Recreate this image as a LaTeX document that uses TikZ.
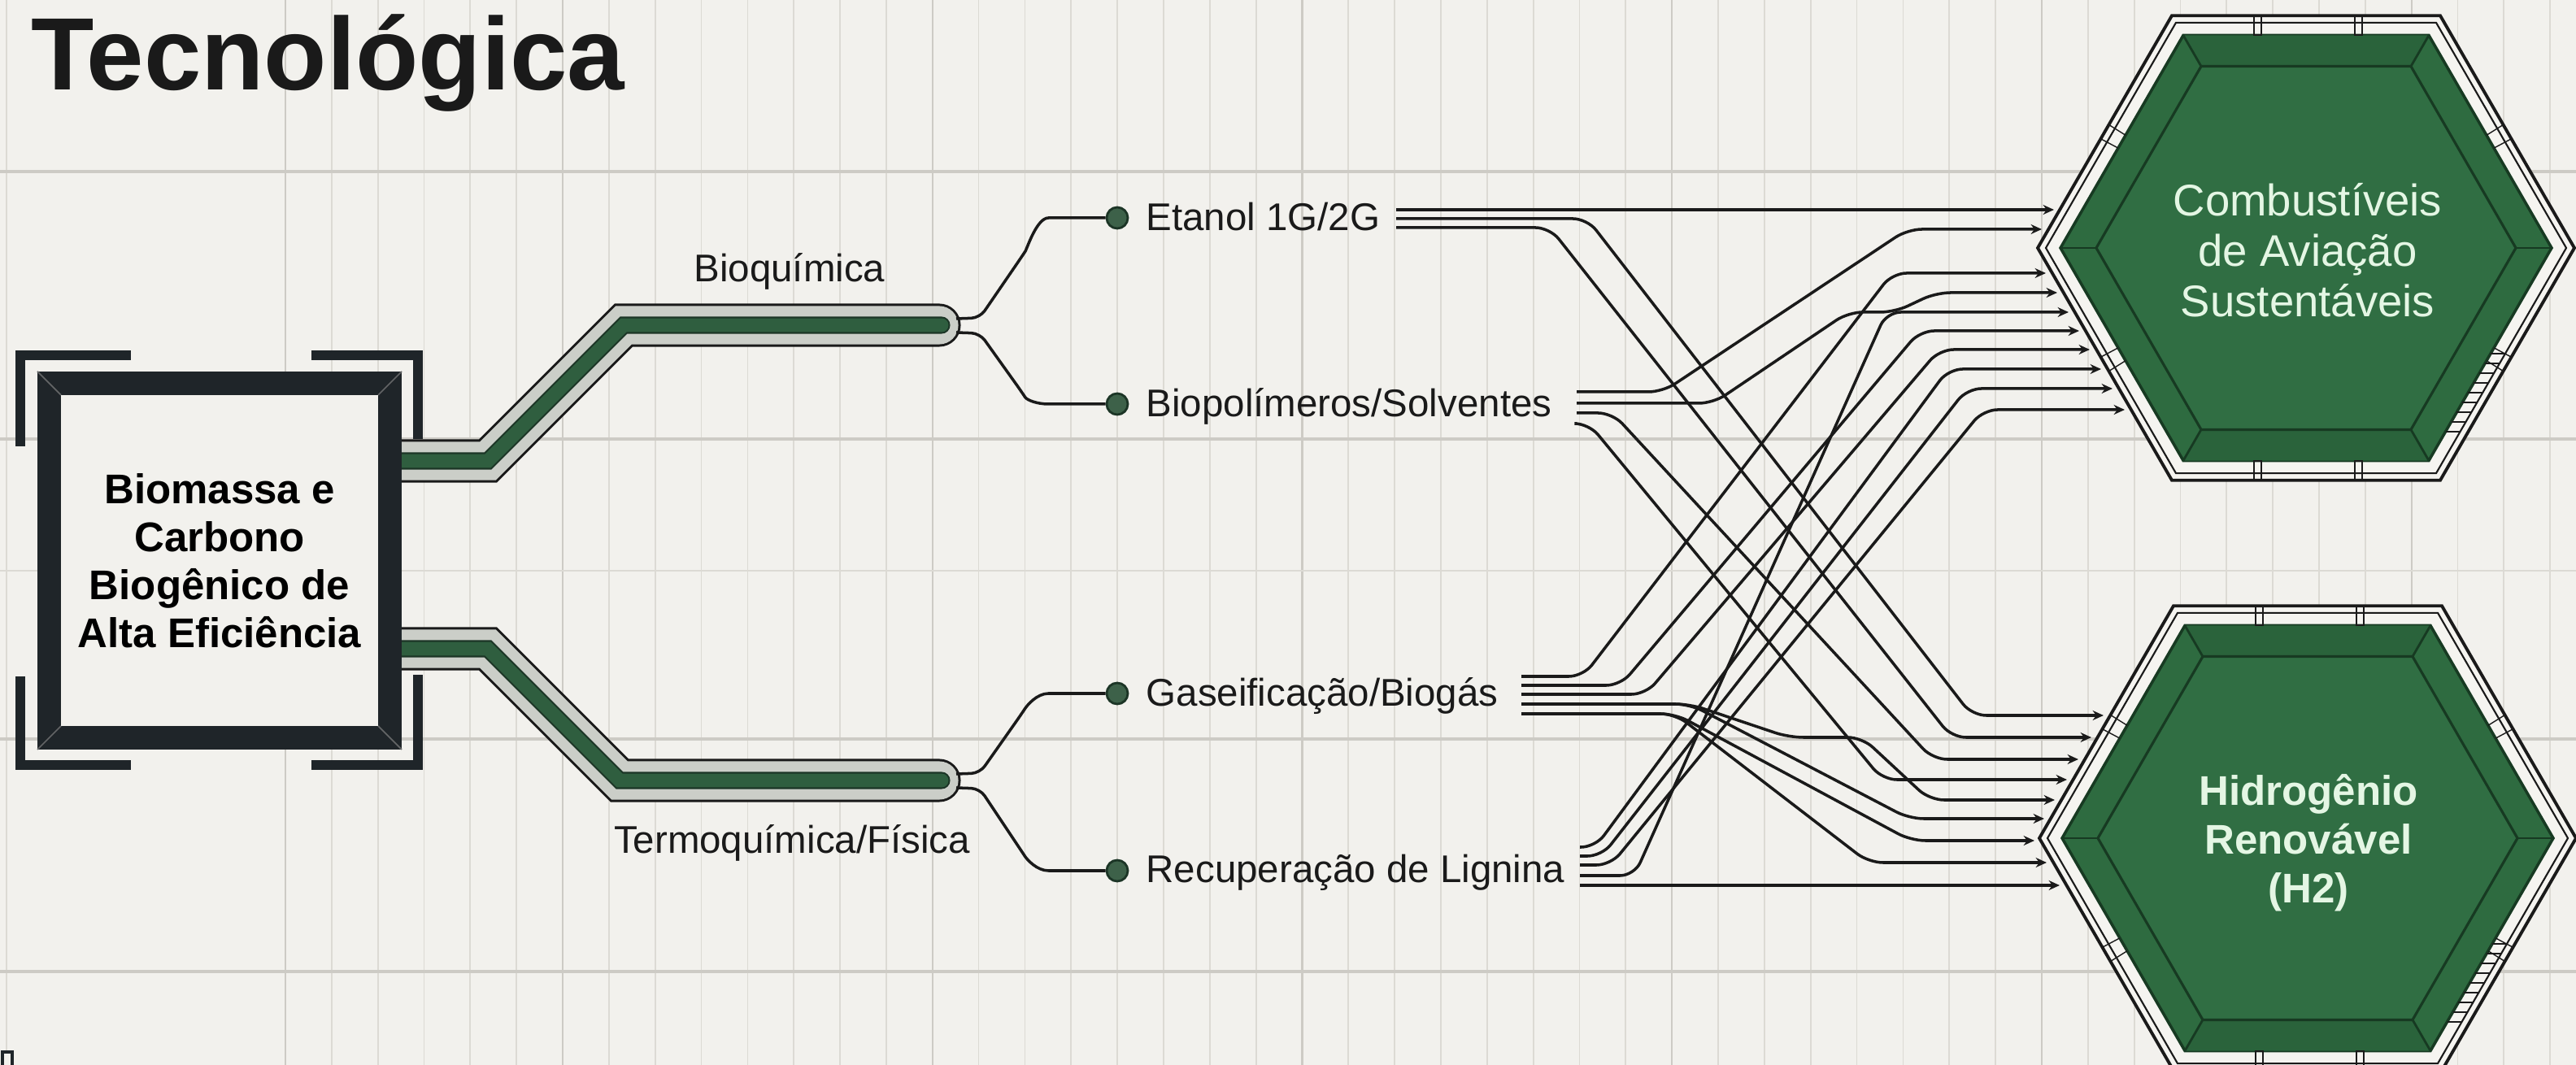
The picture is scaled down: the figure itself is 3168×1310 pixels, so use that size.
\documentclass[tikz,border=0pt]{standalone}
\usepackage{fontspec}
\setmainfont{Liberation Sans}
\usetikzlibrary{arrows.meta,calc}
\definecolor{bg}{HTML}{F2F1ED}
\definecolor{hexbg}{HTML}{F5F4F0}
\definecolor{gridc}{HTML}{DCDAD4}
\definecolor{gridd}{HTML}{CDCBC5}
\definecolor{frame}{HTML}{1F2529}
\definecolor{ink}{HTML}{1A1A1A}
\definecolor{pipeg}{HTML}{CBCEC8}
\definecolor{core}{HTML}{2F5E3F}
\definecolor{coreo}{HTML}{1C3526}
\definecolor{dotg}{HTML}{3D6149}
\definecolor{hexg}{HTML}{2E6B40}
\definecolor{hexdk}{HTML}{2A633B}
\definecolor{hexin}{HTML}{306E43}
\definecolor{hexline}{HTML}{173A22}
\definecolor{mint}{HTML}{E4F6E4}
\newcommand\hexring[1]{(0:#1) -- (60:#1) -- (120:#1) -- (180:#1) -- (240:#1) -- (300:#1) -- cycle}
\begin{document}
\begin{tikzpicture}[x=0.01cm,y=-0.01cm,
 lbl/.style={inner sep=0pt, anchor=base west, text=ink, font=\fontsize{13.5}{16}\selectfont},
 plbl/.style={inner sep=0pt, anchor=base, text=ink, font=\fontsize{13.5}{16}\selectfont},
 flow/.style={draw=ink, line width=1pt, rounded corners=5pt, -{Stealth[length=3.8pt,width=3.4pt]}},
 branch/.style={draw=ink, line width=1pt, rounded corners=3pt},
 dotn/.style={circle, fill=dotg, draw=coreo, line width=0.8pt, minimum size=0.26cm, inner sep=0pt},
 bracket/.style={draw=frame, line width=3.4pt},
 vgrid/.style={draw=gridc, line width=0.5pt},
 vgridd/.style={draw=gridd, line width=0.6pt},
 hgrid/.style={draw=gridd, line width=1pt}]
\useasboundingbox (0,0) rectangle (3168,1310);
\fill[bg] (0,0) rectangle (3168,1310);
% grid
\draw[vgrid] (8,0) -- (8,1310);
\foreach \k in {0,...,49}{\draw[vgrid] ({351+56.84*\k},0) -- ({351+56.84*\k},1310);}
\foreach \k in {0,6,14,22,30,38,46}{\draw[vgridd] ({351+56.84*\k},0) -- ({351+56.84*\k},1310);}
\foreach \yy in {211,540,909,1195}{\draw[hgrid] (0,\yy) -- (3168,\yy);}
\draw[vgrid] (0,702) -- (3168,702);
% title
\node[anchor=base west, inner sep=0pt, text=ink, font=\bfseries\fontsize{36}{40}\selectfont] (title) at (38,111) {Tecnológica};
% pipes
\foreach \p in {{(480,567) -- (600,567) -- (767,400) -- (1155,400)},{(480,798) -- (600,798) -- (762,960) -- (1155,960)}}{
 \draw[line width=15.1pt, draw=ink, line cap=round] \p;
 \draw[line width=13.4pt, draw=pipeg, line cap=round] \p;}
\foreach \p in {{(480,567) -- (600,567) -- (767,400) -- (1158,400)},{(480,798) -- (600,798) -- (762,960) -- (1158,960)}}{
 \draw[line width=6pt, draw=coreo, line cap=round] \p;
 \draw[line width=4.8pt, draw=core, line cap=round] \p;}
% box
\node[draw=frame, line width=8.25pt, fill=bg, minimum width=4.19cm, minimum height=4.36cm, align=center, inner sep=0pt, text=black, font=\bfseries\fontsize{14.5}{16.8}\selectfont] (box) at (270,689.5) {Biomassa e\\Carbono\\Biogênico de\\Alta Eficiência};
\draw[gray!70!frame, line width=0.5pt] (46,457) -- (75,486) (494,457) -- (465,486) (46,922) -- (75,893) (494,922) -- (465,893);
\draw[bracket] (25,549) -- (25,437) -- (161,437);
\draw[bracket] (383,437) -- (514,437) -- (514,540);
\draw[bracket] (25,832) -- (25,941) -- (161,941);
\draw[bracket] (383,941) -- (514,941) -- (514,830);
% pipe labels
\node[plbl] (lbio) at (971,347) {Bioquímica};
\node[plbl] (lter) at (974,1050) {Termoquímica/Física};
% dots and labels
\node[dotn] (dE) at (1374,268) {};
\node[dotn] (dB) at (1374,497) {};
\node[dotn] (dG) at (1374,853) {};
\node[dotn] (dR) at (1374,1071) {};
\node[lbl] (lE) at (1409,284) {Etanol 1G/2G};
\node[lbl] (lB) at (1409,513) {Biopolímeros/Solventes};
\node[lbl] (lG) at (1409,869) {Gaseificação/Biogás};
\node[lbl] (lR) at (1409,1086) {Recuperação de Lignina};
% branches
\coordinate (pa1) at (1176,392); \coordinate (pa2) at (1176,409);
\coordinate (pb1) at (1176,952); \coordinate (pb2) at (1176,969);
\draw[branch] (pa1) -- (1205,391) -- (1255,318) .. controls (1263,306) and (1275,268) .. (1300,268) -- (dE);
\draw[branch] (pa2) -- (1205,410) -- (1255,480) .. controls (1263,492) and (1275,497) .. (1300,497) -- (dB);
\draw[branch] (pb1) -- (1205,951) -- (1255,880) .. controls (1263,868) and (1275,853) .. (1300,853) -- (dG);
\draw[branch] (pb2) -- (1205,970) -- (1255,1045) .. controls (1263,1057) and (1275,1071) .. (1300,1071) -- (dR);
% hexagons
\foreach \cx/\cy in {2836/305, 2838/1031}{
\begin{scope}[shift={(\cx,\cy)}]
 \filldraw[fill=hexbg, draw=ink, line width=1.1pt] \hexring{330};
 \draw[ink, line width=0.6pt] \hexring{320};
 \filldraw[fill=hexg, draw=hexline, line width=1pt] \hexring{302};
 \fill[hexdk] (240:302) -- (300:302) -- (300:258) -- (240:258) -- cycle;
 \fill[hexdk] (60:302) -- (120:302) -- (120:258) -- (60:258) -- cycle;
 \filldraw[fill=hexin, draw=hexline, line width=0.9pt] \hexring{258};
 \foreach \a in {0,60,...,300}{\draw[hexline, line width=0.8pt] (\a:302) -- (\a:258);}
 \draw[ink, line width=0.5pt] (-64,-286) rectangle (-55,-262) (60,-286) rectangle (69,-262);
 \draw[ink, line width=0.5pt] (-64,286) rectangle (-55,262) (60,286) rectangle (69,262);
 \foreach \a in {30,150,210,330}{\draw[ink, line width=0.4pt] ({\a-2}:262) -- ({\a-2}:285) ({\a+2}:262) -- ({\a+2}:285);}
 \foreach \yy in {130,142,...,226}{\draw[ink, line width=0.4pt] ({302-0.577*\yy},\yy) -- ({320-0.577*\yy},\yy);}
\end{scope}}
\node[text=mint, align=center, font=\fontsize{15.5}{17.6}\selectfont] (saf) at (2838,308) {Combustíveis\\de Aviação\\Sustentáveis};
\node[text=mint, align=center, font=\bfseries\fontsize{14.5}{17}\selectfont] (hyd) at (2839,1037) {Hidrogênio\\Renovável\\(H2)};
% bundle starts
\coordinate (e1) at (1717,258); \coordinate (e2) at (1717,269); \coordinate (e3) at (1717,280);
\coordinate (b1) at (1939,482); \coordinate (b2) at (1939,496); \coordinate (b3) at (1939,508); \coordinate (b4) at (1939,521);
\coordinate (g1) at (1871,832); \coordinate (g2) at (1871,843); \coordinate (g3) at (1871,854); \coordinate (g4) at (1871,866); \coordinate (g5) at (1871,878);
\coordinate (r1) at (1943,1042); \coordinate (r2) at (1943,1053); \coordinate (r3) at (1943,1064); \coordinate (r4) at (1943,1077); \coordinate (r5) at (1943,1089);
% ends
\coordinate (s1) at (2526,258); \coordinate (s2) at (2511,282); \coordinate (s3) at (2516,336); \coordinate (s4) at (2530,360); \coordinate (s5) at (2544,384);
\coordinate (s6) at (2557,407); \coordinate (s7) at (2570,430); \coordinate (s8) at (2584,454); \coordinate (s9) at (2598,478); \coordinate (s10) at (2613,504);
\coordinate (h1) at (2587,880); \coordinate (h2) at (2572,907); \coordinate (h3) at (2556,934); \coordinate (h4) at (2542,959); \coordinate (h5) at (2527,984);
\coordinate (h6) at (2514,1007); \coordinate (h7) at (2502,1034); \coordinate (h8) at (2517,1061); \coordinate (h9) at (2533,1089);
% flows
\draw[flow] (e1) -- (s1);
\draw[flow] (e2) -- (1952,269) -- (2425,880) -- (h1);
\draw[flow] (e3) -- (1906,280) -- (2400,907) -- (h2);
\draw[flow] (b1) -- (2045,482) -- (2346,282) -- (s2);
\draw[flow] (b2) -- (2107,496) -- (2273,384) -- (2330,384) -- (2381,360) -- (s4);
\draw[flow] (b3) -- (1983,508) -- (2377,934) -- (h3);
\draw[flow] (b4) -- (1954,521) -- (2315,959) -- (h4);
\draw[flow] (g1) -- (1947,832) -- (2327,336) -- (s3);
\draw[flow] (g2) -- (1993,843) -- (2361,407) -- (s6);
\draw[flow] (g3) -- (2024,854) -- (2385,430) -- (s7);
\draw[flow] (g4) -- (2078,866) -- (2348,1007) -- (h6);
\draw[flow] (g4) -- (2078,866) -- (2200,907) -- (2290,907) -- (2373,984) -- (h5);
\draw[flow] (g5) -- (2060,878) -- (2298,1061) -- (h8);
\draw[flow] (g5) -- (2060,878) -- (2350,1034) -- (h7);
\draw[flow] (r1) -- (1962,1042) -- (2396,454) -- (s8);
\draw[flow] (r2) -- (1970,1053) -- (2419,478) -- (s9);
\draw[flow] (r3) -- (1981,1064) -- (2439,504) -- (s10);
\draw[flow] (r4) -- (2010,1077) -- (2320,384) -- (s5);
\draw[flow] (r5) -- (h9);
% corner mark
\draw[frame, line width=1pt, fill=bg] (3,1294) rectangle (15,1316);
\end{tikzpicture}
\end{document}
